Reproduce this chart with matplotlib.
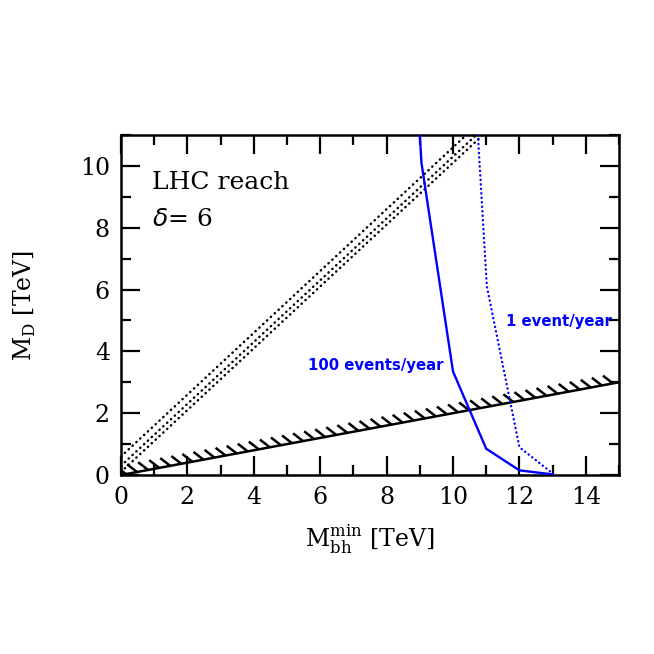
import numpy as np
import matplotlib
matplotlib.use("Agg")
import matplotlib.pyplot as plt
from matplotlib.ticker import MultipleLocator

# --- data ---
bound_x = [0.0, 15.0]
bound_y = [0.0, 3.0]          # M_D = M_bh/5 boundary (hatched)
diag_offsets = [0.1, 0.3, 0.6]  # dotted diagonals y = x + c
ev100_x = [9.0, 9.05, 10.0, 11.0, 12.0, 13.0]
ev100_y = [11.0, 10.1, 3.35, 0.85, 0.15, 0.02]
ev1_x = [10.75, 10.9, 11.02, 12.0, 13.0]
ev1_y = [11.0, 8.25, 6.1, 0.9, 0.05]
xticks = [0, 2, 4, 6, 8, 10, 12, 14]
yticks = [0, 2, 4, 6, 8, 10]

plt.rcParams['font.family'] = ['DejaVu Serif']
fig = plt.figure(figsize=(6.54, 6.54), dpi=100)
ax = fig.add_axes([0.185, 0.2737, 0.7615, 0.5199])
ax.set_xlim(0, 15)
ax.set_ylim(0, 11)

blue = '#0000ff'
ax.plot(bound_x, bound_y, color='black', lw=1.8, zorder=3)
# hatches above boundary
hx = np.arange(0.15, 15.0, 1/3)
slope = (bound_y[1] - bound_y[0]) / (bound_x[1] - bound_x[0])
for x0 in hx:
    y0 = slope * x0
    ax.plot([x0, x0 - 0.3], [y0, y0 + 0.25], color='black', lw=1.8,
            solid_capstyle='butt', clip_on=True, zorder=3)

for c in diag_offsets:
    xs = np.array([0.0, 11.0 - c])
    ax.plot(xs, xs + c, color='black', lw=1.8, linestyle=(0, (0.1, 2.0)),
            dash_capstyle='round', zorder=2)

ax.plot(ev100_x, ev100_y, color=blue, lw=1.7, zorder=4)
ax.plot(ev1_x, ev1_y, color=blue, lw=1.7, linestyle=(0, (0.1, 1.8)),
        dash_capstyle='round', zorder=4)

ax.text(7.68, 3.53, '100 events/year', color=blue, fontsize=10.7,
        fontweight='bold', family='DejaVu Sans', ha='center', va='center')
ax.text(13.18, 4.98, '1 event/year', color=blue, fontsize=10.7,
        fontweight='bold', family='DejaVu Sans', ha='center', va='center')

ax.text(0.93, 9.45, 'LHC reach', fontsize=18, ha='left', va='center')
ax.text(0.93, 8.25, r'$\delta$= 6', fontsize=18, ha='left', va='center')

ax.set_xticks(xticks)
ax.set_yticks(yticks)
ax.xaxis.set_minor_locator(MultipleLocator(1))
ax.yaxis.set_minor_locator(MultipleLocator(1))
ax.tick_params(which='both', direction='in', top=True, right=True,
               labelsize=17, width=1.6)
ax.tick_params(which='major', length=14, pad=8)
ax.tick_params(which='minor', length=7)
for s in ax.spines.values():
    s.set_linewidth(1.8)

ax.set_xlabel(r'M$_{\mathregular{bh}}^{\mathregular{min}}$ [TeV]', fontsize=17, labelpad=10)
ax.set_ylabel(r'M$_{\mathregular{D}}$ [TeV]', fontsize=17, labelpad=30)

fig.savefig('out.png', dpi=100)
